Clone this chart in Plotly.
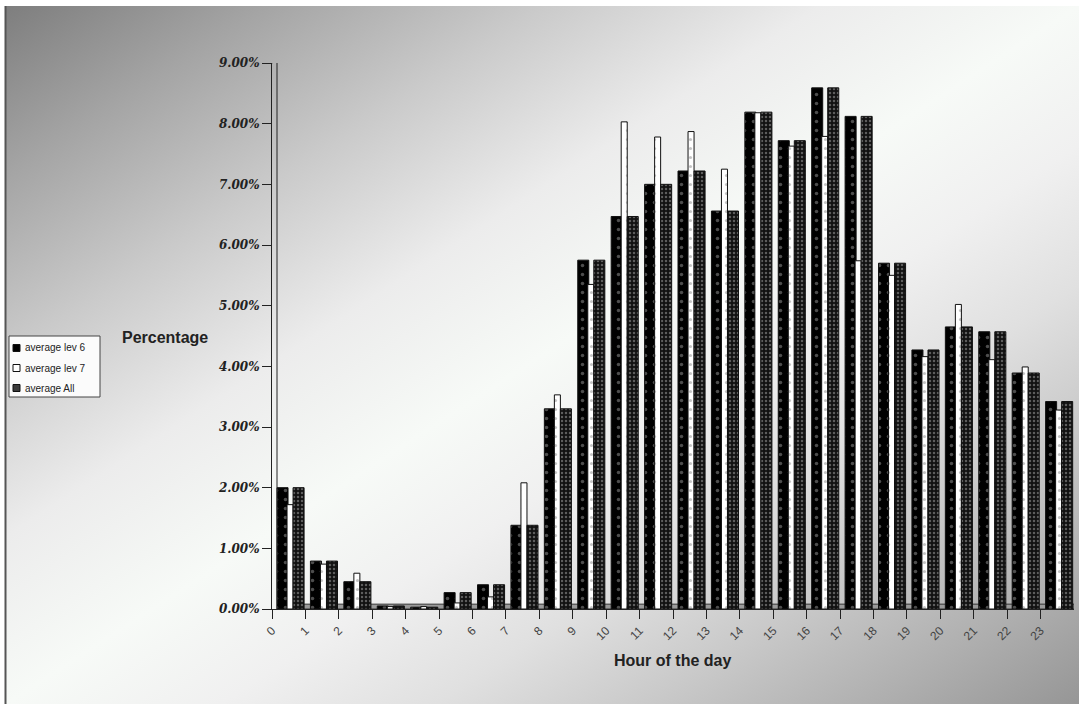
import base64
import plotly.graph_objects as go

# Share of activity per hour of the day (percent)
hours = list(range(24))
hour_labels = [str(h) for h in hours]
lev6 = [2.00, 0.79, 0.45, 0.05, 0.03, 0.27, 0.40, 1.38, 3.30, 5.75, 6.47, 7.00,
        7.22, 6.56, 8.19, 7.72, 8.59, 8.12, 5.70, 4.27, 4.65, 4.57, 3.89, 3.42]
lev7 = [1.72, 0.74, 0.59, 0.04, 0.04, 0.10, 0.20, 2.08, 3.53, 5.35, 8.03, 7.78,
        7.87, 7.25, 8.18, 7.63, 7.79, 5.74, 5.50, 4.16, 5.02, 4.11, 3.99, 3.28]
avg_all = [2.00, 0.79, 0.45, 0.05, 0.03, 0.27, 0.40, 1.38, 3.30, 5.75, 6.47, 7.00,
           7.22, 6.56, 8.19, 7.72, 8.59, 8.12, 5.70, 4.27, 4.65, 4.57, 3.89, 3.42]
series_names = ["average lev 6", "average lev 7", "average All"]
y_ticks = list(range(10))
y_tick_labels = [f"{v:.2f}%" for v in y_ticks]

W, H = 1079, 704
L, R, T, B = 272, 5, 63, 95
PW = W - L - R
PH = H - T - B


def px_x(p):
    return (p - L) / PW


def px_y(p):
    return (H - B - p) / PH


fig = go.Figure()

outline = dict(color="#111111", width=1)
styles = [
    dict(offset=0.15, width=0.33, bg="#000000", fg="#9a9a9a", size=9, sol=0.12),
    dict(offset=0.45, width=0.18, bg="#ffffff", fg="#8a8a8a", size=9, sol=0.1),
    dict(offset=0.63, width=0.33, bg="#111111", fg="#a8a8a8", size=4, sol=0.3),
]
for name, vals, st in zip(series_names, [lev6, lev7, avg_all], styles):
    fig.add_trace(go.Bar(
        x=hours, y=vals, name=name, offset=st["offset"], width=st["width"],
        showlegend=False,
        marker=dict(color=st["bg"], line=outline,
                    pattern=dict(shape=".", bgcolor=st["bg"], fgcolor=st["fg"],
                                 size=st["size"], solidity=st["sol"])),
    ))

# diagonal grey-white-grey backdrop
svg = (
    '<svg xmlns="http://www.w3.org/2000/svg" width="100" height="100" '
    'preserveAspectRatio="none">'
    '<defs><linearGradient id="g" x1="0" y1="0" x2="1" y2="1">'
    '<stop offset="0" stop-color="#7e7e7e"/>'
    '<stop offset="0.12" stop-color="#a4a4a4"/>'
    '<stop offset="0.25" stop-color="#cacaca"/>'
    '<stop offset="0.38" stop-color="#ececec"/>'
    '<stop offset="0.5" stop-color="#f7faf7"/>'
    '<stop offset="0.6" stop-color="#f0f0f0"/>'
    '<stop offset="0.7" stop-color="#e0e0e0"/>'
    '<stop offset="0.8" stop-color="#c9c9c9"/>'
    '<stop offset="0.9" stop-color="#b0b0b0"/>'
    '<stop offset="1" stop-color="#969696"/>'
    '</linearGradient></defs>'
    '<rect width="100" height="100" fill="url(#g)"/></svg>'
)
uri = "data:image/svg+xml;base64," + base64.b64encode(svg.encode()).decode()

fig.add_layout_image(dict(
    source=uri, xref="paper", yref="paper",
    x=px_x(6), y=px_y(6), sizex=(W - 6) / PW, sizey=(H - 6) / PH,
    xanchor="left", yanchor="top", sizing="stretch", layer="below",
))

shapes = [
    # left frame rule
    dict(type="line", xref="paper", yref="paper", x0=px_x(5.5), x1=px_x(5.5),
         y0=px_y(6), y1=px_y(H), line=dict(color="#555555", width=2)),
    # floor strip
    dict(type="rect", xref="x", yref="y", x0=0.15, x1=24, y0=0, y1=0.08,
         fillcolor="#9a9a9a", line=dict(color="#333333", width=1), layer="below"),
    # back wall edges
    dict(type="line", xref="x", yref="y", x0=0.15, x1=0.15, y0=0.08, y1=9.05,
         line=dict(color="#222222", width=1)),
    dict(type="line", xref="x", yref="y", x0=0.15, x1=24.2, y0=9.05, y1=9.05,
         line=dict(color="#222222", width=1.5)),
    dict(type="line", xref="x", yref="y", x0=0, x1=0.15, y0=9.0, y1=9.05,
         line=dict(color="#222222", width=1)),
    # legend box
    dict(type="rect", xref="paper", yref="paper", x0=px_x(9), x1=px_x(100),
         y0=px_y(336), y1=px_y(397), fillcolor="#fbfbfb",
         line=dict(color="#444444", width=1)),
]

annotations = [
    dict(text="<b>Percentage</b>", xref="paper", yref="paper",
         x=px_x(165), y=px_y(337), xanchor="center", yanchor="middle",
         showarrow=False,
         font=dict(family="Liberation Sans, Arial", size=16, color="#222222")),
    dict(text="<b>Hour of the day</b>", xref="paper", yref="paper",
         x=px_x(672), y=px_y(660), xanchor="center", yanchor="middle",
         showarrow=False,
         font=dict(family="Liberation Sans, Arial", size=16, color="#222222")),
]

# legend entries
swatch_fill = ["#000000", "#ffffff", "#3a3a3a"]
for i, (name, fill) in enumerate(zip(series_names, swatch_fill)):
    cy = 348 + 20 * i
    shapes.append(dict(type="rect", xref="paper", yref="paper",
                       x0=px_x(13), x1=px_x(20), y0=px_y(cy + 3.5), y1=px_y(cy - 3.5),
                       fillcolor=fill, line=dict(color="#111111", width=1)))
    annotations.append(dict(text=name, xref="paper", yref="paper",
                            x=px_x(23), y=px_y(cy), xanchor="left", yanchor="middle",
                            showarrow=False,
                            font=dict(family="Liberation Sans, Arial", size=10,
                                      color="#222222")))

fig.update_layout(
    width=W, height=H,
    margin=dict(l=L, r=R, t=T, b=B),
    paper_bgcolor="#ffffff",
    plot_bgcolor="rgba(0,0,0,0)",
    barmode="overlay",
    showlegend=False,
    shapes=shapes,
    annotations=annotations,
    xaxis=dict(
        range=[0, 24], tickmode="array", tickvals=hours, ticktext=hour_labels,
        tickangle=-45, ticks="outside", ticklen=9, tickcolor="#222222",
        showline=True, linecolor="#222222", linewidth=1, showgrid=False,
        zeroline=False,
        tickfont=dict(family="Liberation Sans, Arial", size=12, color="#444444"),
    ),
    yaxis=dict(
        range=[0, 9], tickmode="array", tickvals=y_ticks, ticktext=y_tick_labels,
        ticks="outside", ticklen=9, tickcolor="#222222",
        showline=True, linecolor="#222222", linewidth=1, showgrid=False,
        zeroline=False,
        tickfont=dict(family="DejaVu Serif, Liberation Serif", size=12,
                      color="#222222", weight="bold", style="italic"),
    ),
)

fig.write_html("out.html")
